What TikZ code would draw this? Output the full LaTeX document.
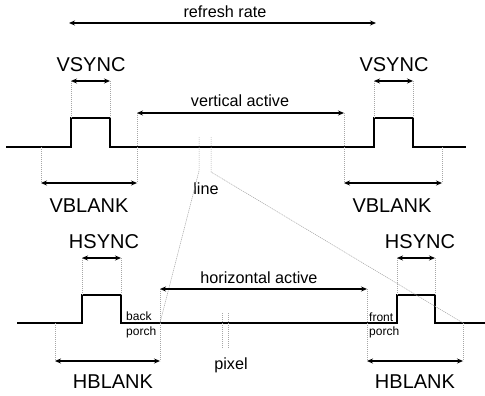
\documentclass[tikz,border=0pt]{standalone}
\usepackage{fontspec}
\setmainfont{Liberation Sans}
\usetikzlibrary{arrows.meta}
\begin{document}
\begin{tikzpicture}[x=1pt,y=-1pt,
  wave/.style={line width=1.8pt,line join=miter},
  span/.style={line width=1.2pt,{Stealth[length=6pt,width=5pt]}-{Stealth[length=6pt,width=5pt]}},
  guide/.style={gray!70,line width=0.5pt,dash pattern=on 1.2pt off 0.8pt},
  big/.style={font=\fontsize{20}{22}\selectfont,anchor=base,inner sep=0pt},
  mid/.style={font=\fontsize{16.2}{18}\selectfont,anchor=base,inner sep=0pt},
  small/.style={font=\fontsize{12}{13}\selectfont,anchor=base west,inner sep=0pt}]
\useasboundingbox (0,0) rectangle (485,396);

% ---------- frame timing (vertical) ----------
\draw[wave] (6,147) -- (71,147) -- (71,118) -- (110,118) -- (110,147)
  -- (374,147) -- (374,118) -- (413,118) -- (413,147) -- (466,147);

\coordinate (vs1a) at (71,81);   \coordinate (vs1b) at (110,81);
\coordinate (vs2a) at (374,81);  \coordinate (vs2b) at (413,81);
\coordinate (vaa) at (137,113);  \coordinate (vab) at (344,113);
\coordinate (vb1a) at (41,183);  \coordinate (vb1b) at (137,183);
\coordinate (vb2a) at (344,183); \coordinate (vb2b) at (442,183);
\coordinate (rra) at (69,23);    \coordinate (rrb) at (376,23);

\draw[guide] (vs1a) -- (71,118);  \draw[guide] (vs1b) -- (110,118);
\draw[guide] (vs2a) -- (374,118); \draw[guide] (vs2b) -- (413,118);
\draw[guide] (vaa) -- (vb1b);     \draw[guide] (vab) -- (vb2a);
\draw[guide] (41,147) -- (vb1a);  \draw[guide] (442,147) -- (vb2b);

\draw[span] (rra) -- (rrb);
\draw[span] (vs1a) -- (vs1b);
\draw[span] (vs2a) -- (vs2b);
\draw[span] (vaa) -- (vab);
\draw[span] (vb1a) -- (vb1b);
\draw[span] (vb2a) -- (vb2b);

\node[mid] (rr) at (225,18) {refresh rate};
\node[big] (vs1) at (91,72) {VSYNC};
\node[big] (vs2) at (394,72) {VSYNC};
\node[mid] (va) at (240,106.5) {vertical active};
\node[big] (vb1) at (89,212) {VBLANK};
\node[big] (vb2) at (392,212) {VBLANK};

% one line marked out, projected onto the line timing below
\coordinate (la) at (199,137); \coordinate (lb) at (211,137);
\coordinate (lak) at (199,171); \coordinate (lbk) at (211,172);
\node[mid] (line) at (206,194) {line};

% ---------- line timing (horizontal) ----------
\draw[wave] (17,323) -- (82,323) -- (82,295) -- (121,295) -- (121,323)
  -- (397,323) -- (397,295) -- (435,295) -- (435,323) -- (485,323);

\coordinate (hs1a) at (82,258);  \coordinate (hs1b) at (121,258);
\coordinate (hs2a) at (397,258); \coordinate (hs2b) at (435,258);
\coordinate (haa) at (160,289);  \coordinate (hab) at (367,289);
\coordinate (hb1a) at (55,361);  \coordinate (hb1b) at (160,361);
\coordinate (hb2a) at (367,361); \coordinate (hb2b) at (463,361);
\coordinate (hla) at (160,323);  \coordinate (hlb) at (463,323);

\draw[guide] (la) -- (lak) -- (hla);
\draw[guide] (lb) -- (lbk) -- (hlb);

\draw[guide] (hs1a) -- (82,295);  \draw[guide] (hs1b) -- (121,295);
\draw[guide] (hs2a) -- (397,295); \draw[guide] (hs2b) -- (435,295);
\draw[guide] (haa) -- (hb1b);     \draw[guide] (hab) -- (hb2a);
\draw[guide] (55,323) -- (hb1a);  \draw[guide] (hlb) -- (hb2b);

% one pixel marked out
\draw[guide] (222,313) -- (222,348);
\draw[guide] (228,313) -- (228,348);

\draw[span] (hs1a) -- (hs1b);
\draw[span] (hs2a) -- (hs2b);
\draw[span] (haa) -- (hab);
\draw[span] (hb1a) -- (hb1b);
\draw[span] (hb2a) -- (hb2b);

\node[big] (hs1) at (104,248) {HSYNC};
\node[big] (hs2) at (420,248) {HSYNC};
\node[mid] (ha) at (259,283) {horizontal active};
\node[small] (bp1) at (126,320) {back};
\node[small] (bp2) at (126,335) {porch};
\node[small] (fp1) at (369,321) {front};
\node[small] (fp2) at (369,335) {porch};
\node[mid] (px) at (231,369) {pixel};
\node[big] (hb1) at (113,388) {HBLANK};
\node[big] (hb2) at (415,388) {HBLANK};
\end{tikzpicture}
\end{document}
